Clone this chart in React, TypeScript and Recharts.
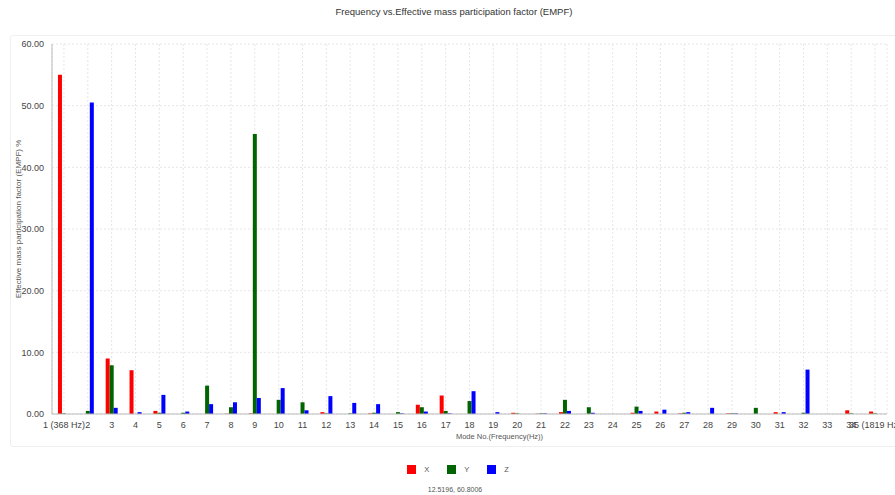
import React from 'react';
import { BarChart, Bar, XAxis, YAxis, CartesianGrid } from 'recharts';

const modes = [
  '1 (368 Hz)', '2', '3', '4', '5', '6', '7', '8', '9', '10',
  '11', '12', '13', '14', '15', '16', '17', '18', '19', '20',
  '21', '22', '23', '24', '25', '26', '27', '28', '29', '30',
  '31', '32', '33', '34', '35 (1819 Hz)',
];

const xValues = [
  55.0, 0, 9.0, 7.1, 0.5, 0, 0, 0.05, 0.1, 0,
  0, 0.3, 0, 0.1, 0, 1.5, 3.0, 0, 0, 0.2,
  0.05, 0.3, 0, 0, 0.2, 0.4, 0.1, 0, 0.1, 0,
  0.3, 0, 0, 0.6, 0.4,
];

const yValues = [
  0.1, 0.5, 7.9, 0, 0.2, 0.2, 4.6, 1.1, 45.4, 2.3,
  1.9, 0.1, 0.1, 0.2, 0.3, 1.1, 0.5, 2.1, 0, 0.1,
  0.1, 2.3, 1.1, 0, 1.2, 0, 0.2, 0, 0.1, 1.0,
  0, 0.2, 0, 0.1, 0.1,
];

const zValues = [
  0, 50.5, 1.0, 0.3, 3.1, 0.4, 1.6, 1.9, 2.6, 4.2,
  0.6, 2.9, 1.8, 1.6, 0.1, 0.4, 0.1, 3.7, 0.3, 0,
  0.1, 0.5, 0.2, 0, 0.5, 0.7, 0.3, 1.0, 0.1, 0,
  0.3, 7.2, 0, 0, 0,
];

const yTicks = [0, 10, 20, 30, 40, 50, 60];

const series = [
  { key: 'X', color: '#ff0000' },
  { key: 'Y', color: '#006400' },
  { key: 'Z', color: '#0000ff' },
];

const data = modes.map((mode, i) => ({
  mode,
  X: xValues[i],
  Y: yValues[i],
  Z: zValues[i],
}));

const font = '"Liberation Sans", Arial, sans-serif';

const App: React.FC = () => {
  return (
    <div style={{ position: 'absolute', left: 0, top: 0, width: 895, height: 495, background: '#fff', fontFamily: font }}>
      <div
        style={{
          position: 'absolute', left: 10, top: 35, width: 895, height: 412,
          border: '1px solid #efefef', borderRadius: 3, boxSizing: 'border-box',
        }}
      />
      <div style={{ position: 'absolute', top: 6, left: 0, width: 908, textAlign: 'center', fontSize: 9.5, color: '#333' }}>
        Frequency vs.Effective mass participation factor (EMPF)
      </div>
      <div style={{ position: 'absolute', top: 0, left: 0 }}>
        <BarChart
          width={895}
          height={495}
          data={data}
          margin={{ top: 44, right: 8, left: 10, bottom: 58 }}
          barCategoryGap="25%"
          barGap={0}
        >
          <CartesianGrid strokeDasharray="2 2" stroke="#e6e6e6" />
          <XAxis
            dataKey="mode"
            interval={0}
            tickLine={false}
            stroke="#bbb"
            tick={{ fontSize: 9, fill: '#444', fontFamily: font }}
            tickMargin={2}
            height={23}
            label={{ value: 'Mode No.(Frequency(Hz))', position: 'insideBottom', offset: -2, fontSize: 7.5, fill: '#555', fontFamily: font, dx: 30 }}
          />
          <YAxis
            domain={[0, 60]}
            ticks={yTicks}
            tickFormatter={(v: number) => v.toFixed(2)}
            tickLine={false}
            stroke="#bbb"
            width={42}
            tickMargin={2}
            tick={{ fontSize: 9, fill: '#444', fontFamily: font }}
            label={{ value: 'Effective mass participation factor (EMPF) %', angle: -90, position: 'insideLeft', offset: 8, dy: -10, fontSize: 8, fill: '#555', fontFamily: font, style: { textAnchor: 'middle' } }}
          />
          {series.map(s => (
            <Bar key={s.key} dataKey={s.key} fill={s.color} isAnimationActive={false} />
          ))}
        </BarChart>
      </div>
      <div
        style={{
          position: 'absolute', top: 465, left: 4, width: 908, display: 'flex', justifyContent: 'center',
          alignItems: 'center', fontSize: 7.5, color: '#555',
        }}
      >
        {series.map(s => (
          <span key={s.key} style={{ display: 'inline-flex', alignItems: 'center', margin: '0 9px' }}>
            <span style={{ display: 'inline-block', width: 9, height: 9, background: s.color, marginRight: 8 }} />
            {s.key}
          </span>
        ))}
      </div>
      <div style={{ position: 'absolute', top: 486, left: 0, width: 910, textAlign: 'center', fontSize: 7, color: '#555' }}>
        12.5196, 60.8006
      </div>
    </div>
  );
};

export default App;
